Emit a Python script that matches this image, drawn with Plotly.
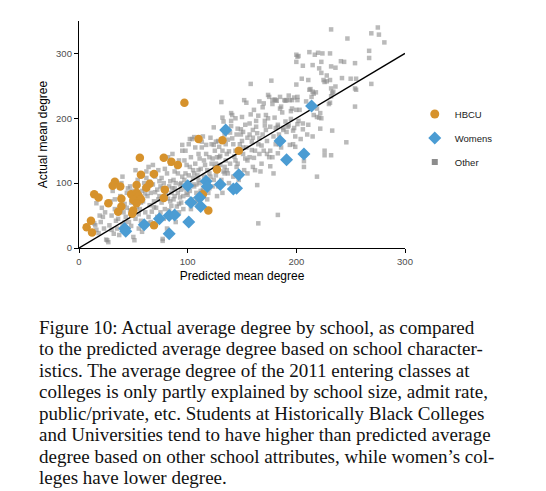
import plotly.graph_objects as go

# HBCU schools (predicted, actual)
hbcu_x = [97, 110, 132, 147, 56, 78, 85, 91, 127, 69, 57, 33, 31, 38, 53, 65, 62, 14, 18, 48,
          53, 55, 79, 39, 27, 50, 57, 53, 39, 36, 50, 49, 78, 114, 119, 11, 7, 12, 69]
hbcu_y = [224, 168, 166, 150, 139, 139, 133, 128, 121, 114, 113, 102, 96, 95, 97, 99, 93, 83, 78, 83,
          85, 80, 90, 76, 69, 74, 75, 69, 64, 56, 58, 53, 77, 83, 58, 42, 32, 24, 35]

# women's colleges
womens_x = [42, 43, 60, 74, 83, 88, 83, 100, 103, 101, 111, 112, 117, 118, 130, 142, 145, 147,
            135, 185, 191, 207, 214]
womens_y = [30, 26, 36, 45, 50, 51, 22, 96, 70, 40, 78, 64, 103, 95, 98, 91, 92, 113,
            182, 165, 136, 145, 219]

# all other schools, (predicted, actual)
other_points = [
    (14, 38), (15, 35), (16, 28), (18, 23), (22, 48), (16, 69), (20, 40), (24, 55), (25, 13), (27, 9),
    (23, 30), (21, 62), (26, 12), (19, 50),
    (28, 35), (30, 50), (32, 22), (33, 60), (29, 72), (34, 42), (31, 88), (35, 30), (30, 28), (33, 75),
    (36, 45), (38, 80), (40, 35), (41, 55), (42, 68), (37, 20), (44, 85), (43, 48), (45, 92), (39, 100),
    (44, 62), (40, 110), (38, 58), (42, 40),
    (46, 40), (47, 58), (48, 70), (50, 17), (51, 12), (49, 88), (52, 45), (53, 63), (54, 105), (55, 30),
    (47, 95), (50, 78), (52, 120), (55, 52), (48, 34), (54, 86),
    (56, 60), (57, 42), (58, 88), (59, 72), (60, 100), (61, 55), (62, 118), (63, 80), (64, 48), (65, 66),
    (58, 25), (60, 92), (62, 108), (64, 125), (57, 70), (63, 38), (61, 84), (65, 102),
    (66, 85), (67, 56), (68, 98), (69, 72), (70, 110), (71, 62), (72, 90), (73, 120), (74, 80), (75, 55),
    (66, 40), (68, 128), (72, 48), (74, 103), (70, 86), (75, 95), (67, 115), (69, 63), (73, 75),
    (76, 70), (77, 14), (77, 11), (78, 100), (79, 60), (80, 88), (81, 115), (82, 76), (83, 95), (84, 130),
    (85, 65), (76, 108), (78, 45), (80, 82), (82, 140), (84, 103), (85, 85), (79, 122), (81, 30), (83, 58),
    (77, 92), (84, 72),
    (86, 92), (87, 75), (88, 118), (89, 100), (90, 64), (91, 85), (92, 135), (93, 98), (94, 70), (95, 110),
    (86, 145), (88, 80), (90, 125), (92, 55), (94, 90), (95, 150), (87, 105), (89, 40), (91, 115), (93, 78),
    (95, 159), (88, 92), (92, 68), (94, 100),
    (96, 80), (97, 105), (98, 92), (99, 128), (100, 70), (101, 112), (102, 88), (103, 140), (104, 98),
    (105, 120), (96, 60), (98, 150), (100, 100), (102, 125), (104, 75), (105, 108), (97, 135), (99, 85),
    (101, 160), (103, 60), (104, 168), (106, 171), (102, 168), (98, 115), (100, 82),
    (106, 95), (107, 130), (108, 85), (109, 112), (110, 145), (111, 100), (112, 122), (113, 155), (114, 90),
    (115, 135), (106, 115), (108, 70), (110, 105), (112, 88), (114, 172), (115, 110), (107, 155), (109, 75),
    (111, 138), (113, 164), (110, 120), (108, 98),
    (116, 100), (117, 159), (118, 120), (119, 85), (120, 140), (121, 110), (122, 130), (123, 95), (124, 186),
    (125, 150), (116, 128), (118, 75), (120, 115), (122, 160), (124, 105), (125, 125), (117, 145), (119, 98),
    (121, 170), (123, 138), (124, 159), (126, 164), (120, 92),
    (126, 112), (127, 140), (128, 95), (129, 156), (130, 128), (131, 105), (132, 150), (133, 118), (134, 175),
    (135, 135), (126, 130), (128, 165), (130, 100), (132, 201), (133, 195), (131, 225), (134, 115), (129, 140),
    (135, 160), (127, 80), (132, 85), (130, 142), (134, 125),
    (136, 120), (137, 167), (138, 149), (139, 130), (140, 188), (141, 169), (142, 110), (143, 141), (144, 200),
    (145, 125), (136, 145), (138, 100), (140, 208), (141, 205), (140, 196), (142, 160), (144, 135), (145, 175),
    (137, 115), (139, 178), (143, 95), (144, 150),
    (146, 130), (147, 150), (148, 115), (149, 183), (150, 165), (151, 145), (152, 228), (153, 138), (154, 224),
    (155, 170), (146, 184), (148, 160), (150, 202), (151, 179), (152, 120), (154, 155), (155, 135), (147, 105),
    (149, 175), (153, 190), (151, 155), (155, 115),
    (157, 192), (158, 206), (159, 164), (160, 182), (161, 213), (162, 150), (163, 196), (164, 177), (165, 204),
    (166, 145), (157, 140), (159, 151), (160, 125), (161, 139), (163, 187), (164, 97), (165, 160), (158, 253),
    (166, 226), (162, 120), (160, 170), (157, 175),
    (167, 118), (168, 158), (169, 217), (170, 223), (171, 189), (172, 182), (173, 165), (174, 200), (175, 233),
    (166, 169), (168, 130), (170, 150), (172, 205), (174, 236), (175, 140), (176, 126), (176, 150), (177, 258),
    (178, 228), (171, 196), (169, 175), (173, 145),
    (178, 140), (179, 115), (180, 201), (181, 228), (182, 227), (183, 187), (184, 160), (185, 233), (178, 222),
    (180, 229), (183, 190), (183, 146), (185, 215), (176, 187), (179, 172), (181, 160), (183, 51), (165, 38),
    (181, 185), (184, 175),
    (186, 218), (187, 209), (188, 182), (189, 228), (190, 227), (191, 179), (192, 187), (193, 235), (194, 159),
    (195, 199), (196, 215), (197, 181), (198, 232), (199, 172), (200, 213), (186, 155), (188, 185), (191, 228),
    (193, 189), (194, 228), (196, 228), (197, 160), (199, 156), (198, 185), (190, 195), (195, 211),
    (200, 298), (201, 295), (200, 287), (202, 296), (206, 281), (212, 302), (215, 282), (217, 298), (220, 301),
    (224, 300), (231, 300), (232, 280), (236, 278), (223, 287), (241, 288), (244, 287), (254, 285), (221, 277),
    (223, 270), (228, 266), (232, 337), (275, 340), (269, 331), (276, 329), (281, 317), (247, 323), (267, 304),
    (267, 293), (205, 261), (211, 259), (225, 259), (226, 256), (228, 257), (231, 259), (242, 262), (250, 261),
    (255, 261), (254, 246), (255, 244), (269, 253), (200, 252), (212, 244), (216, 238), (218, 240), (232, 246),
    (236, 249), (234, 241), (232, 234), (213, 245), (215, 241), (214, 233), (233, 239), (231, 224), (230, 222),
    (209, 226), (201, 228), (201, 233), (254, 218), (203, 213), (219, 215), (222, 208), (221, 201), (216, 205),
    (219, 202), (223, 200), (201, 191), (206, 192), (211, 190), (222, 184), (233, 181), (246, 163), (206, 183),
    (210, 175), (226, 150), (226, 143), (232, 143), (207, 134), (207, 125), (219, 110), (202, 196), (204, 168),
    (215, 172),
]
other_x = [p[0] for p in other_points]
other_y = [p[1] for p in other_points]

line_x = [0, 300]
line_y = [0, 300]

caption_lines = [
    "Figure 10: Actual average degree by school, as compared",
    "to the predicted average degree based on school character-",
    "istics. The average degree of the 2011 entering classes at",
    "colleges is only partly explained by school size, admit rate,",
    "public/private, etc. Students at Historically Black Colleges",
    "and Universities tend to have higher than predicted average",
    "degree based on other school attributes, while women\u2019s col-",
    "leges have lower degree.",
]

ORANGE = "#D6922C"
BLUE = "#4B9CD3"
GREY = "#8C8C8C"

fig = go.Figure()
fig.add_trace(go.Scatter(x=other_x, y=other_y, mode="markers", showlegend=False,
                         marker=dict(symbol="square", size=4.5, color=GREY, opacity=0.6)))
fig.add_trace(go.Scatter(x=line_x, y=line_y, mode="lines", showlegend=False,
                         line=dict(color="black", width=1.4)))
fig.add_trace(go.Scatter(x=hbcu_x, y=hbcu_y, mode="markers", showlegend=False,
                         marker=dict(symbol="circle", size=8.5, color=ORANGE)))
fig.add_trace(go.Scatter(x=womens_x, y=womens_y, mode="markers", showlegend=False,
                         marker=dict(symbol="diamond", size=10, color=BLUE)))

# legend entries only
for name, sym, col, sz in [("HBCU", "circle", ORANGE, 9), ("Womens", "diamond", BLUE, 10),
                           ("Other", "square", GREY, 6)]:
    fig.add_trace(go.Scatter(x=[None], y=[None], mode="markers", name=name, legendgroup=name,
                             marker=dict(symbol=sym, size=sz, color=col)))

# the page has an 8px body margin, so the figure is drawn 8px smaller and offset
PX0, PY0 = 79, 248          # page pixel of data (0, 0)
plot_w, plot_h = 326, 227
baselines = [333, 354.5, 376, 397.5, 419, 440.5, 462, 483.5]
for txt, base in zip(caption_lines, baselines):
    fig.add_annotation(text=txt, xref="paper", yref="paper",
                       x=(37 - PX0) / plot_w, y=(PY0 - (base - 6)) / plot_h,
                       xanchor="left", yanchor="middle", showarrow=False,
                       font=dict(family="Liberation Serif", size=19, color="#111111"))

fig.update_layout(
    width=538, height=483,
    margin=dict(l=71, r=141, t=13, b=243),
    paper_bgcolor="white", plot_bgcolor="white",
    font=dict(family="Liberation Sans, Arial", color="black"),
    legend=dict(x=1.03, y=(PY0 - 138) / plot_h, xanchor="left", yanchor="middle",
                font=dict(size=9.5, color="#1a1a1a"), tracegroupgap=5,
                bgcolor="rgba(0,0,0,0)"),
)
fig.update_xaxes(range=[0, 300], tickvals=[0, 100, 200, 300], showgrid=False, zeroline=False,
                 showline=True, linecolor="black", linewidth=1.3, ticks="outside", ticklen=4,
                 tickcolor="black", tickfont=dict(size=9.5, color="#4d4d4d"),
                 title=dict(text="Predicted mean degree", font=dict(size=12), standoff=6))
fig.update_yaxes(range=[0, 350], tickvals=[0, 100, 200, 300], showgrid=False, zeroline=False,
                 showline=True, linecolor="black", linewidth=1.3, ticks="outside", ticklen=4,
                 tickcolor="black", tickfont=dict(size=9.5, color="#4d4d4d"),
                 title=dict(text="Actual mean degree", font=dict(size=12), standoff=5))

fig.write_html("out.html")
